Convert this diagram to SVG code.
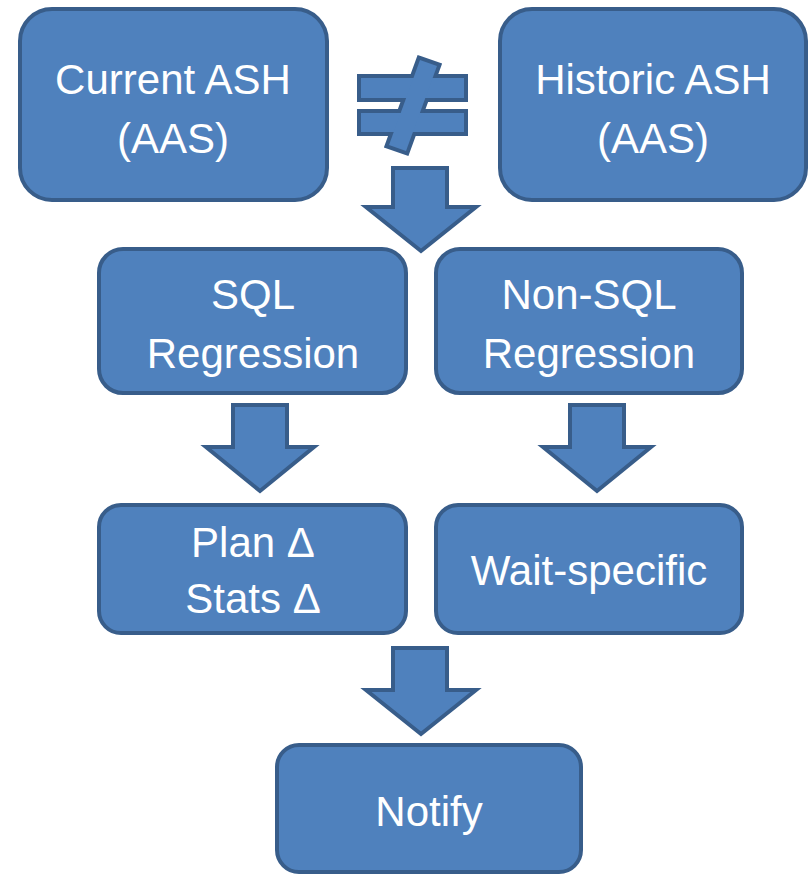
<svg xmlns="http://www.w3.org/2000/svg" width="810" height="876" viewBox="0 0 810 876">
  <style>
    .box { fill: #4f81bd; stroke: #385d8a; stroke-width: 4; }
    .arrow { fill: #4f81bd; stroke: #385d8a; stroke-width: 4; stroke-linejoin: miter; }
    .label { fill: #ffffff; font-family: "Liberation Sans", "Open Sans", sans-serif; font-size: 42px; text-anchor: middle; }
    .ne-edge { fill: #4f81bd; stroke: #385d8a; stroke-width: 8; stroke-linejoin: miter; }
    .ne-fill { fill: #4f81bd; stroke: none; }
  </style>
  <rect width="810" height="876" fill="#ffffff"/>

  <g id="current-ash">
    <rect class="box" x="20" y="9" width="307" height="191" rx="32"/>
    <text class="label" x="173" y="94">Current ASH</text>
    <text class="label" x="173" y="153">(AAS)</text>
  </g>

  <g id="historic-ash">
    <rect class="box" x="500" y="9" width="306" height="191" rx="32"/>
    <text class="label" x="653" y="94">Historic ASH</text>
    <text class="label" x="653" y="153">(AAS)</text>
  </g>

  <!-- not-equal sign: stroked layer first, then fill layer so the outline follows the union -->
  <g id="not-equal">
    <rect class="ne-edge" x="361" y="78" width="103" height="20"/>
    <rect class="ne-edge" x="361" y="113" width="103" height="19"/>
    <polygon class="ne-edge" points="420,60 437,66 406,151 389,145"/>
    <rect class="ne-fill" x="361" y="78" width="103" height="20"/>
    <rect class="ne-fill" x="361" y="113" width="103" height="19"/>
    <polygon class="ne-fill" points="420,60 437,66 406,151 389,145"/>
  </g>

  <g id="sql-regression">
    <rect class="box" x="99" y="249" width="307" height="144" rx="24"/>
    <text class="label" x="253" y="309">SQL</text>
    <text class="label" x="253" y="368">Regression</text>
  </g>

  <g id="non-sql-regression">
    <rect class="box" x="436" y="249" width="306" height="144" rx="24"/>
    <text class="label" x="589" y="309">Non-SQL</text>
    <text class="label" x="589" y="368">Regression</text>
  </g>

  <g id="plan-stats">
    <rect class="box" x="99" y="505" width="307" height="128" rx="22"/>
    <text class="label" x="253" y="557">Plan Δ</text>
    <text class="label" x="253" y="613">Stats Δ</text>
  </g>

  <g id="wait-specific">
    <rect class="box" x="436" y="505" width="306" height="128" rx="22"/>
    <text class="label" x="589" y="585">Wait-specific</text>
  </g>

  <g id="notify">
    <rect class="box" x="277" y="745" width="304" height="127" rx="22"/>
    <text class="label" x="429" y="826">Notify</text>
  </g>

  <g id="connectors">
    <polygon class="arrow" points="393,168 447,168 447,207 476,207 421,251 366,207 393,207"/>
    <polygon class="arrow" points="233,405 287,405 287,447 314,447 260,491 206,447 233,447"/>
    <polygon class="arrow" points="570,405 624,405 624,447 651,447 597,491 543,447 570,447"/>
    <polygon class="arrow" points="393,648 447,648 447,690 476,690 421,734 366,690 393,690"/>
  </g>
</svg>
